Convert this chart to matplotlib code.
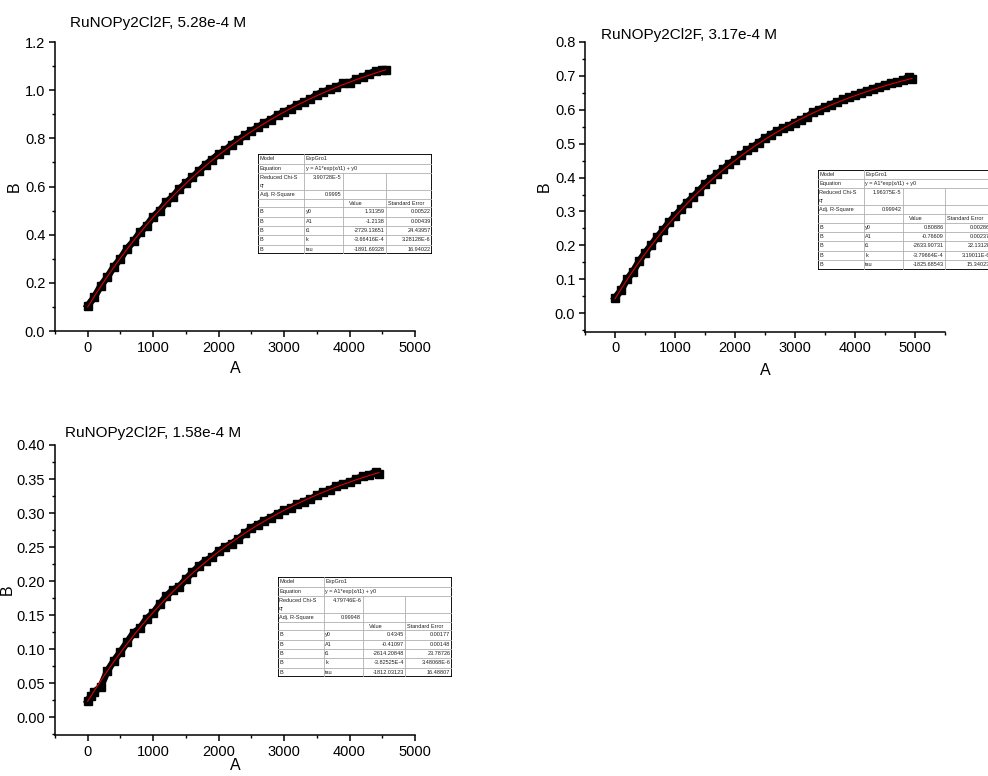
import numpy as np
import matplotlib
matplotlib.use("Agg")
import matplotlib.pyplot as plt
from matplotlib.ticker import MultipleLocator, FormatStrFormatter

plt.rcParams["font.family"] = ["Liberation Sans", "DejaVu Sans"]

# ---- dados ----
x1 = [0, 100, 200, 300, 400, 500, 600, 700, 800, 900, 1000, 1100, 1200, 1300, 1400,
      1500, 1600, 1700, 1800, 1900, 2000, 2100, 2200, 2300, 2400, 2500, 2600, 2700,
      2800, 2900, 3000, 3100, 3200, 3300, 3400, 3500, 3600, 3700, 3800, 3900, 4000,
      4100, 4200, 4300, 4400, 4500, 4550]
y1 = [0.105, 0.140, 0.188, 0.224, 0.267, 0.300, 0.342, 0.372, 0.410, 0.438, 0.474,
      0.500, 0.534, 0.558, 0.590, 0.614, 0.638, 0.664, 0.690, 0.712, 0.734, 0.750,
      0.774, 0.792, 0.812, 0.830, 0.846, 0.864, 0.877, 0.896, 0.910, 0.922, 0.940,
      0.950, 0.962, 0.982, 0.993, 1.003, 1.012, 1.028, 1.030, 1.046, 1.054, 1.068,
      1.080, 1.085, 1.085]

x2 = [0, 100, 200, 300, 400, 500, 600, 700, 800, 900, 1000, 1100, 1200, 1300, 1400,
      1500, 1600, 1700, 1800, 1900, 2000, 2100, 2200, 2300, 2400, 2500, 2600, 2700,
      2800, 2900, 3000, 3100, 3200, 3300, 3400, 3500, 3600, 3700, 3800, 3900, 4000,
      4100, 4200, 4300, 4400, 4500, 4600, 4700, 4800, 4900, 4950]
y2 = [0.045, 0.068, 0.100, 0.123, 0.153, 0.178, 0.200, 0.224, 0.245, 0.268, 0.288,
      0.306, 0.326, 0.343, 0.361, 0.380, 0.396, 0.410, 0.424, 0.440, 0.452, 0.465,
      0.480, 0.490, 0.503, 0.515, 0.526, 0.537, 0.545, 0.552, 0.562, 0.570, 0.578,
      0.592, 0.600, 0.607, 0.615, 0.622, 0.630, 0.636, 0.642, 0.650, 0.655, 0.662,
      0.667, 0.673, 0.678, 0.681, 0.687, 0.697, 0.691]

x3 = [0, 50, 100, 200, 300, 400, 500, 600, 700, 800, 900, 1000, 1100, 1200, 1300,
      1400, 1500, 1600, 1700, 1800, 1900, 2000, 2100, 2200, 2300, 2400, 2500, 2600,
      2700, 2800, 2900, 3000, 3100, 3200, 3300, 3400, 3500, 3600, 3700, 3800, 3900,
      4000, 4100, 4200, 4300, 4400, 4450]
y3 = [0.024, 0.032, 0.037, 0.045, 0.068, 0.083, 0.096, 0.110, 0.124, 0.131, 0.145,
      0.153, 0.166, 0.178, 0.187, 0.192, 0.203, 0.213, 0.222, 0.230, 0.235, 0.244,
      0.250, 0.255, 0.262, 0.270, 0.278, 0.283, 0.289, 0.293, 0.299, 0.304, 0.307,
      0.313, 0.317, 0.320, 0.326, 0.331, 0.334, 0.340, 0.343, 0.345, 0.350, 0.354,
      0.356, 0.361, 0.357]

titulos = ["RuNOPy2Cl2F, 5.28e-4 M", "RuNOPy2Cl2F, 3.17e-4 M", "RuNOPy2Cl2F, 1.58e-4 M"]

# parametros do ajuste (y0, A1, t1)
ajuste1 = (1.31359, -1.2138, -2729.13651)
ajuste2 = (0.80886, -0.76609, -2633.90731)
ajuste3 = (0.4345, -0.41097, -2614.20848)

tab1 = {"chi": "3.90728E-5", "r2": "0.9995",
        "val": ["1.31359", "-1.2138", "-2729.13651", "-3.66416E-4", "-1891.69328"],
        "err": ["0.00522", "0.00439", "24.43957", "3.28128E-6", "16.94022"]}
tab2 = {"chi": "1.96375E-5", "r2": "0.99942",
        "val": ["0.80886", "-0.76609", "-2633.90731", "-3.79664E-4", "-1825.68543"],
        "err": ["0.00286", "0.00237", "22.13128", "3.19011E-6", "15.34023"]}
tab3 = {"chi": "4.79746E-6", "r2": "0.99948",
        "val": ["0.4345", "-0.41097", "-2614.20848", "-3.82525E-4", "-1812.03123"],
        "err": ["0.00177", "0.00148", "23.78726", "3.48068E-6", "16.48807"]}
params = ["y0", "A1", "t1", "k", "tau"]

W, H = 988, 776
fig = plt.figure(figsize=(W / 100, H / 100), dpi=100)


def px(l, t, r, b):
    return [l / W, 1 - b / H, (r - l) / W, (b - t) / H]


def grafico(rect, x, y, ajuste, titulo, tit_xy, xlim, ylim, ymaj, ymin, fmt, pos_a, pos_b):
    ax = fig.add_axes(px(*rect))
    ax.plot(x, y, "s-", color="black", ms=5.5, lw=5)
    y0, a1, t1 = ajuste
    xf = np.linspace(0, x[-1], 300)
    ax.plot(xf, a1 * np.exp(xf / t1) + y0, color="#e00000", lw=0.8)
    ax.set_xlim(*xlim)
    ax.set_ylim(*ylim)
    ax.xaxis.set_major_locator(MultipleLocator(1000))
    ax.xaxis.set_minor_locator(MultipleLocator(500))
    ax.yaxis.set_major_locator(MultipleLocator(ymaj))
    ax.yaxis.set_minor_locator(MultipleLocator(ymin))
    ax.yaxis.set_major_formatter(FormatStrFormatter(fmt))
    ax.set_yticks([t for t in ax.get_yticks() if t >= -1e-9 and t <= ylim[1] + 1e-9])
    for s in ["top", "right"]:
        ax.spines[s].set_visible(False)
    for s in ["left", "bottom"]:
        ax.spines[s].set_linewidth(1.1)
    ax.tick_params(which="major", direction="out", length=4, width=1.1, labelsize=10.5, pad=3)
    ax.tick_params(which="minor", direction="out", length=2.5, width=1)
    ax.set_xlabel("A", fontsize=11.5)
    ax.set_ylabel("B", fontsize=11.5)
    ax.xaxis.set_label_coords(0.5, pos_a)
    ax.yaxis.set_label_coords(pos_b, 0.5)
    fig.text(tit_xy[0] / W, 1 - tit_xy[1] / H, titulo, fontsize=11)
    return ax


def tabela(left, top, d):
    cw = [46, 39, 42.7, 46.3]
    rh = [9.3, 9, 17.3, 9, 8.3, 9.4, 9.4, 9.4, 9.4, 9.5]
    tw, th = sum(cw), sum(rh)
    ax = fig.add_axes(px(left, top, left + tw, top + th))
    ax.set_xlim(0, tw)
    ax.set_ylim(th, 0)
    ax.axis("off")
    ax.add_patch(plt.Rectangle((0, 0), tw, th, facecolor="white", edgecolor="none"))
    cx = np.concatenate([[0], np.cumsum(cw)])
    ry = np.concatenate([[0], np.cumsum(rh)])
    cinza = "#b0b0b0"
    for i in range(1, len(ry) - 1):
        ax.plot([0, tw], [ry[i], ry[i]], color=cinza, lw=0.6)
    for j in range(1, 4):
        y_ini = 0 if j == 1 else ry[2]
        ax.plot([cx[j], cx[j]], [y_ini, th], color=cinza, lw=0.6)
    ax.add_patch(plt.Rectangle((0, 0), tw, th, facecolor="none", edgecolor="black", lw=1.3))
    fs = 4.0
    pad = 1.5
    cor = "#222222"

    def txt(col, row, s, ha="left"):
        xx = cx[col] + pad if ha == "left" else cx[col + 1] - pad
        yy = ry[row] + 4.5
        ax.text(xx, yy, s, ha=ha, va="center", fontsize=fs, color=cor)

    txt(0, 0, "Model")
    txt(1, 0, "ExpGro1")
    txt(0, 1, "Equation")
    txt(1, 1, "y = A1*exp(x/t1) + y0")
    ax.text(cx[0] + pad, ry[2] + 4.5, "Reduced Chi-S", va="center", fontsize=fs, color=cor)
    ax.text(cx[0] + pad, ry[2] + 12.5, "qr", va="center", fontsize=fs, color=cor)
    txt(1, 2, d["chi"], ha="right")
    txt(0, 3, "Adj. R-Square")
    txt(1, 3, d["r2"], ha="right")
    ax.text(cx[2] + 6, ry[4] + 4.5, "Value", va="center", fontsize=fs, color=cor)
    txt(3, 4, "Standard Error")
    for k in range(5):
        txt(0, 5 + k, "B")
        txt(1, 5 + k, params[k])
        txt(2, 5 + k, d["val"][k], ha="right")
        txt(3, 5 + k, d["err"][k], ha="right")


grafico((55, 42, 415, 331), x1, y1, ajuste1, titulos[0], (70, 27),
        (-500, 5000), (0, 1.2), 0.2, 0.1, "%.1f", -0.104, -0.092)
grafico((585, 41.7, 945, 331.7), x2, y2, ajuste2, titulos[1], (601, 39),
        (-500, 5500), (-0.054, 0.8), 0.1, 0.05, "%.1f", -0.108, -0.092)
grafico((55, 445, 415, 735), x3, y3, ajuste3, titulos[2], (65, 437),
        (-500, 5000), (-0.026, 0.40), 0.05, 0.025, "%.2f", -0.08, -0.111)

tabela(258.3, 154.3, tab1)
tabela(817.7, 169.7, tab2)
tabela(277.7, 577.3, tab3)

fig.savefig("out.png", dpi=100)
